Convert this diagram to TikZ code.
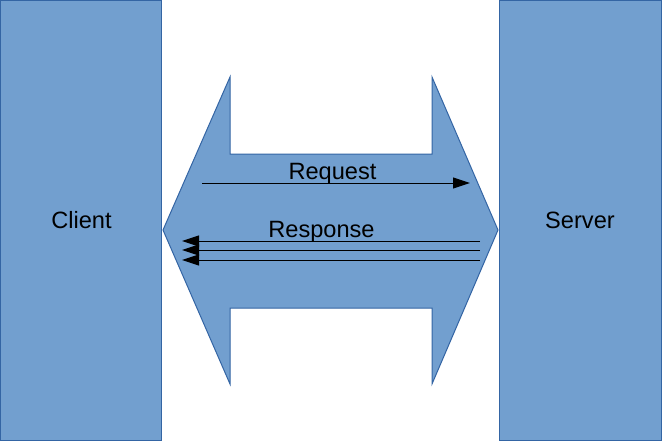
\documentclass[tikz,border=0pt]{standalone}
\usepackage{fontspec}
\setmainfont{Liberation Sans}
\usetikzlibrary{arrows.meta}
\definecolor{boxfill}{HTML}{729FCF}
\definecolor{boxline}{HTML}{3465A4}
\begin{document}
\begin{tikzpicture}[x=1pt,y=-1pt,
  panel/.style={fill=boxfill,draw=boxline,line width=1.2pt},
  lbl/.style={font=\fontsize{23.6}{28}\selectfont,text=black,inner sep=0pt,anchor=base},
  msg/.style={draw=black,line width=1pt,-{Triangle[length=17pt,width=11pt]}}]
\useasboundingbox (0,0) rectangle (662,442);
% client and server panels
\draw[panel] (0.6,0.6) rectangle (161.6,440.6);
\draw[panel] (499.6,0.6) rectangle (661.4,440.6);
\node[lbl] (client) at (81.5,228) {Client};
\node[lbl] (server) at (580,228) {Server};
% two-headed channel between them
\draw[panel,line width=1pt] (163,230) -- (230,77) -- (230,154) -- (432,154) -- (432,77)
  -- (498,230) -- (432,384) -- (432,308) -- (230,308) -- (230,384) -- cycle;
% message lines
\coordinate (rqs) at (202,183);
\coordinate (rqe) at (470,183);
\coordinate (rs1s) at (480,241);
\coordinate (rs1e) at (182,241);
\coordinate (rs2s) at (480,250);
\coordinate (rs2e) at (182,250);
\coordinate (rs3s) at (480,260);
\coordinate (rs3e) at (182,260);
\draw[msg] (rqs) -- (rqe);
\draw[msg] (rs1s) -- (rs1e);
\draw[msg] (rs2s) -- (rs2e);
\draw[msg] (rs3s) -- (rs3e);
\node[lbl] (req) at (332.5,179) {Request};
\node[lbl] (resp) at (321.5,237) {Response};
\end{tikzpicture}
\end{document}
